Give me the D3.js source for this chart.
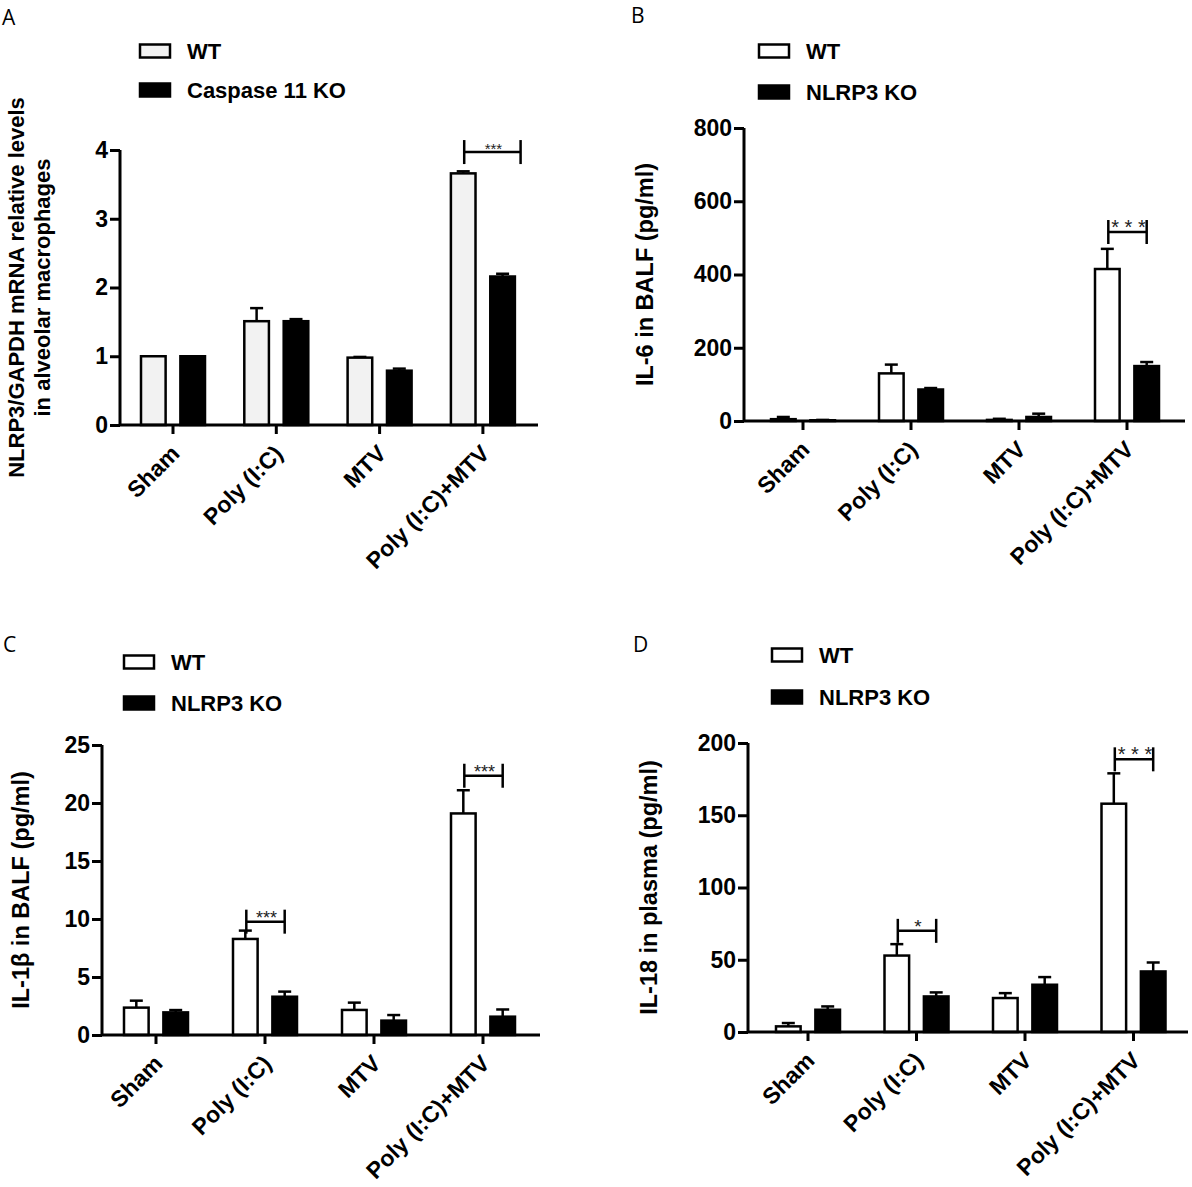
<!DOCTYPE html>
<html>
<head>
<meta charset="utf-8">
<script src="https://cdn.jsdelivr.net/npm/d3@7"></script>
<style>
  body { margin: 0; background: #fff; }
  text { font-family: "Liberation Sans", Arial, sans-serif; }
</style>
</head>
<body>
<svg id="fig" width="1192" height="1187"></svg>
<script>
// groups on the x axis
const groups = ['Sham', 'Poly (I:C)', 'MTV', 'Poly (I:C)+MTV']

// A: NLRP3/GAPDH mRNA in alveolar macrophages
const aWT = [1.0, 1.51, 0.98, 3.66]
const aWTerr = [0, 0.19, 0.01, 0.03]
const aKO = [1.0, 1.51, 0.79, 2.16]
const aKOerr = [0, 0.03, 0.03, 0.04]

// B: IL-6 in BALF
const bWT = [5, 130, 3, 415]
const bWTerr = [6, 24, 3, 55]
const bKO = [2, 86, 11, 150]
const bKOerr = [1, 4, 9, 11]

// C: IL-1beta in BALF
const cWT = [2.36, 8.28, 2.16, 19.1]
const cWTerr = [0.6, 0.72, 0.63, 2.0]
const cKO = [1.95, 3.3, 1.24, 1.58]
const cKOerr = [0.2, 0.44, 0.48, 0.62]

// D: IL-18 in plasma
const dWT = [3.9, 52.9, 23.5, 158]
const dWTerr = [2.3, 7.9, 3.4, 21]
const dKO = [15.4, 24.6, 32.7, 41.9]
const dKOerr = [2.3, 2.8, 5.3, 6.2]

const panels = [
  { letter: 'A', lx: 2, ly: 25, series: ['WT', 'Caspase 11 KO'], wtFill: '#f2f2f2',
    wt: aWT, wtErr: aWTerr, ko: aKO, koErr: aKOerr,
    yMax: 4, yTicks: [0, 1, 2, 3, 4],
    title: ['NLRP3/GAPDH mRNA relative levels', 'in alveolar macrophages'], titleX: [24, 50], titleSize: 22,
    brackets: [{ g: 'Poly (I:C)+MTV', y: 3.97, text: '***', size: 15, extra: 18 }],
    ax: 120, y0: 425, yT: 150, xEnd: 538, t0: 173, step: 103.3, legX: 140, legY: [51, 90] },
  { letter: 'B', lx: 631, ly: 23, series: ['WT', 'NLRP3 KO'], wtFill: '#fff',
    wt: bWT, wtErr: bWTerr, ko: bKO, koErr: bKOerr,
    yMax: 800, yTicks: [0, 200, 400, 600, 800],
    title: ['IL-6 in BALF (pg/ml)'], titleX: [653], titleSize: 23.5,
    brackets: [{ g: 'Poly (I:C)+MTV', y: 516, text: '* * *', size: 20, extra: 0 }],
    ax: 744, y0: 421, yT: 128, xEnd: 1185, t0: 803, step: 108, legX: 759, legY: [51, 92] },
  { letter: 'C', lx: 3, ly: 652, series: ['WT', 'NLRP3 KO'], wtFill: '#fff',
    wt: cWT, wtErr: cWTerr, ko: cKO, koErr: cKOerr,
    yMax: 25, yTicks: [0, 5, 10, 15, 20, 25],
    title: ['IL-1β in BALF (pg/ml)'], titleX: [29], titleSize: 23.5,
    brackets: [{ g: 'Poly (I:C)', y: 9.77, text: '***', size: 18, extra: 0 },
               { g: 'Poly (I:C)+MTV', y: 22.35, text: '***', size: 18, extra: 0 }],
    ax: 102, y0: 1035, yT: 745, xEnd: 540, t0: 156, step: 109, legX: 124, legY: [662, 703] },
  { letter: 'D', lx: 633, ly: 652, series: ['WT', 'NLRP3 KO'], wtFill: '#fff',
    wt: dWT, wtErr: dWTerr, ko: dKO, koErr: dKOerr,
    yMax: 200, yTicks: [0, 50, 100, 150, 200],
    title: ['IL-18 in plasma (pg/ml)'], titleX: [657], titleSize: 23.5,
    brackets: [{ g: 'Poly (I:C)', y: 70, text: '*', size: 19, extra: 0 },
               { g: 'Poly (I:C)+MTV', y: 188.7, text: '* * *', size: 20, extra: 0 }],
    ax: 748, y0: 1032, yT: 743, xEnd: 1188, t0: 808, step: 108.5, legX: 772, legY: [655, 697] }
]

const svg = d3.select('#fig')
panels.forEach(drawPanel)

function drawPanel(p) {
  const g = svg.append('g')
  const x = d3.scaleBand().domain(groups)
    .range([p.t0 - p.step / 2, p.t0 + p.step * (groups.length - 0.5)])
  const inner = d3.scaleBand().domain(['wt', 'ko']).range([-32, 32]).paddingInner(0.375)
  const y = d3.scaleLinear().domain([0, p.yMax]).range([p.y0, p.yT])
  const cx = (grp, s) => x(grp) + x.bandwidth() / 2 + inner(s) + inner.bandwidth() / 2

  // panel letter
  g.append('text').attr('x', p.lx).attr('y', p.ly).text(p.letter)
    .style('font-family', '"Open Sans", sans-serif').style('font-size', '21px')

  const rows = []
  groups.forEach((grp, i) => {
    rows.push({ grp, s: 'wt', v: p.wt[i], e: p.wtErr[i] })
    rows.push({ grp, s: 'ko', v: p.ko[i], e: p.koErr[i] })
  })

  // error bars (drawn behind bars)
  const err = g.append('g').attr('stroke', '#000').attr('stroke-width', 2.5)
  rows.filter(d => d.e > 0).forEach(d => {
    const c = cx(d.grp, d.s)
    err.append('line').attr('x1', c).attr('x2', c).attr('y1', y(d.v)).attr('y2', y(d.v + d.e))
    err.append('line').attr('x1', c - 6.5).attr('x2', c + 6.5).attr('y1', y(d.v + d.e)).attr('y2', y(d.v + d.e))
  })

  // bars
  g.append('g').selectAll('rect').data(rows).join('rect')
    .attr('x', d => x(d.grp) + x.bandwidth() / 2 + inner(d.s))
    .attr('width', inner.bandwidth())
    .attr('y', d => y(d.v))
    .attr('height', d => p.y0 - y(d.v))
    .attr('fill', d => d.s === 'wt' ? p.wtFill : '#000')
    .attr('stroke', '#000').attr('stroke-width', 2.5)

  // y axis
  const yAx = g.append('g').attr('transform', `translate(${p.ax},0)`)
    .call(d3.axisLeft(y).tickValues(p.yTicks).tickSize(10).tickPadding(2).tickFormat(d3.format('d')))
  yAx.select('.domain').attr('stroke-width', 3).attr('d', `M0,${p.y0}V${p.yT}`)
  yAx.selectAll('.tick line').attr('stroke-width', 3)
  yAx.selectAll('.tick text').style('font-size', '23px').style('font-weight', 'bold')
    .style('font-family', '"Liberation Sans", Arial, sans-serif').attr('fill', '#000')

  // x axis
  const xAx = g.append('g').attr('transform', `translate(0,${p.y0})`)
    .call(d3.axisBottom(x).tickSize(9).tickPadding(0))
  xAx.select('.domain').attr('stroke-width', 3).attr('d', `M${p.ax},0H${p.xEnd}`)
  xAx.selectAll('.tick line').attr('stroke-width', 3)
  xAx.selectAll('.tick text')
    .attr('y', null).attr('dy', null)
    .attr('text-anchor', 'end')
    .attr('transform', 'translate(8,30) rotate(-45)')
    .style('font-size', '23px').style('font-weight', 'bold')
    .style('font-family', '"Liberation Sans", Arial, sans-serif').attr('fill', '#000')

  // y title
  p.title.forEach((t, i) => {
    g.append('text')
      .attr('transform', `translate(${p.titleX[i]},${(p.y0 + p.yT) / 2}) rotate(-90)`)
      .attr('text-anchor', 'middle')
      .style('font-size', p.titleSize + 'px').style('font-weight', 'bold')
      .text(t)
  })

  // significance brackets
  p.brackets.forEach(b => {
    const x1 = cx(b.g, 'wt') + 1
    const x2 = cx(b.g, 'ko') + b.extra
    const yy = y(b.y)
    const bg = g.append('g').attr('stroke', '#000').attr('stroke-width', 2.5)
    bg.append('line').attr('x1', x1).attr('x2', x2).attr('y1', yy).attr('y2', yy)
    bg.append('line').attr('x1', x1).attr('x2', x1).attr('y1', yy - 12).attr('y2', yy + 12)
    bg.append('line').attr('x1', x2).attr('x2', x2).attr('y1', yy - 12).attr('y2', yy + 12)
    g.append('text').attr('x', (x1 + x2) / 2 + 1).attr('y', yy + 2)
      .attr('text-anchor', 'middle').attr('fill', '#222')
      .style('font-size', b.size + 'px').text(b.text)
  })

  // legend
  p.series.forEach((s, i) => {
    g.append('rect').attr('x', p.legX).attr('y', p.legY[i] - 6.5)
      .attr('width', 30).attr('height', 13)
      .attr('fill', i === 0 ? p.wtFill : '#000')
      .attr('stroke', '#000').attr('stroke-width', 2.5)
    g.append('text').attr('x', p.legX + 47).attr('y', p.legY[i] + 8)
      .style('font-size', '22px').style('font-weight', 'bold').text(s)
  })
}
</script>
</body>
</html>
